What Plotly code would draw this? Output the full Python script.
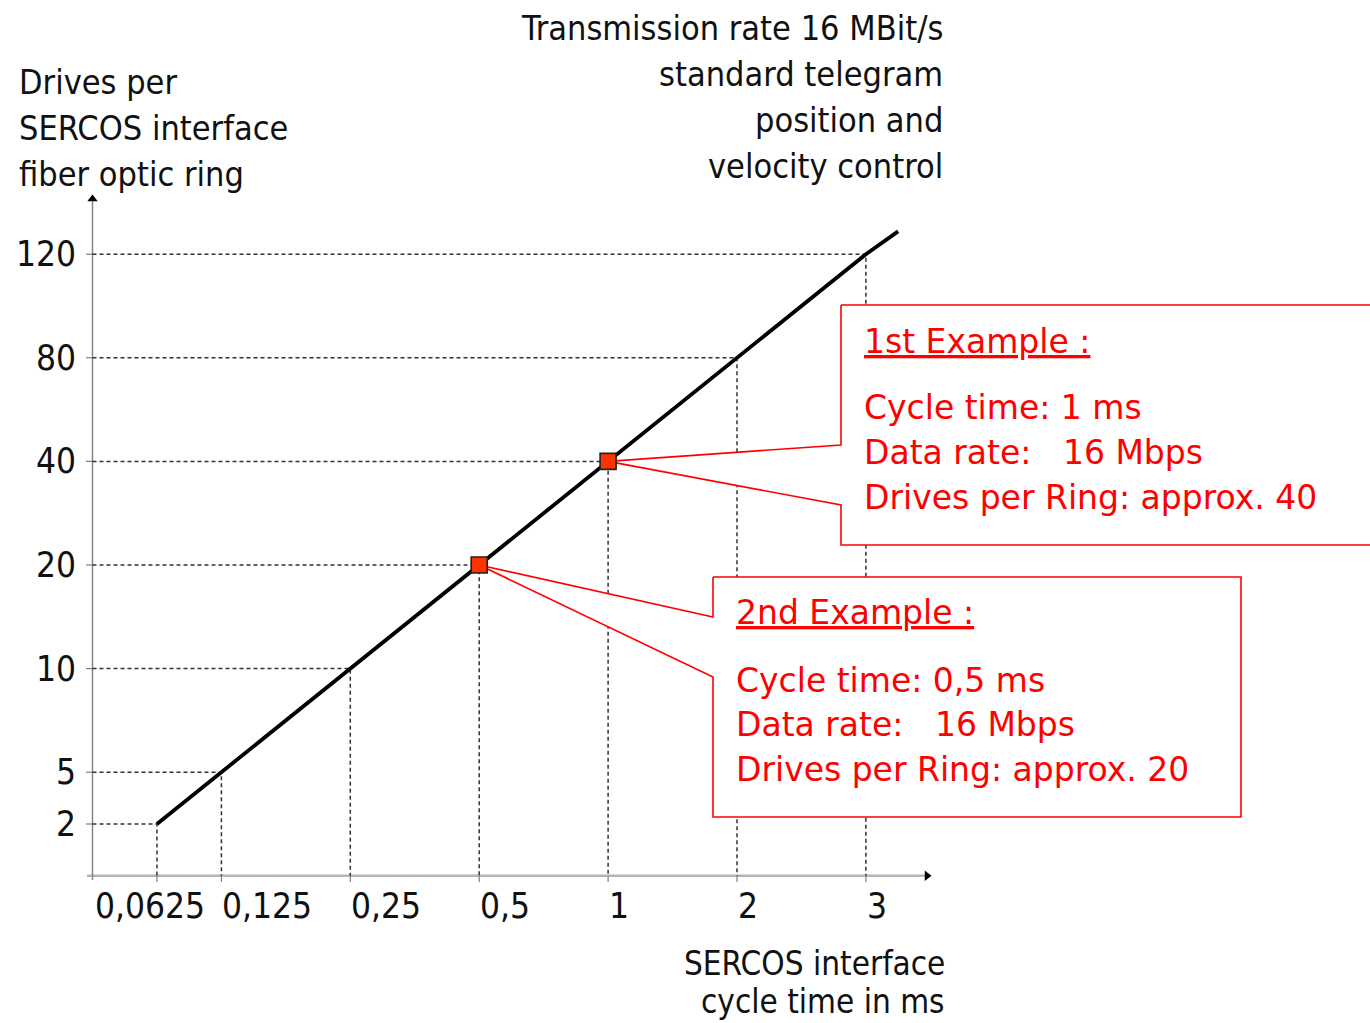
import plotly.graph_objects as go

# ---------------- data ----------------
cycle_time_labels = ["0,0625", "0,125", "0,25", "0,5", "1", "2", "3"]   # ms
drives_labels = ["2", "5", "10", "20", "40", "80", "120"]
# schematic (non-linear) positions of the ticks on both axes
x_positions = [0.5, 1, 2, 3, 4, 5, 6]
y_positions = [0.5, 1, 2, 3, 4, 5, 6]
line_extension = (6.25, 6.22)          # where the drawn line ends beyond 3 ms

example_titles = ["1st Example :", "2nd Example :"]
example_cycle = ["1", "0,5"]
example_rate = ["16 Mbps", "16 Mbps"]
example_drives = ["40", "20"]

y_title_lines = ["Drives per", "SERCOS interface", "fiber optic ring"]
top_title_lines = ["Transmission rate 16 MBit/s", "standard telegram", "position and", "velocity control"]
x_title_lines = ["SERCOS interface", "cycle time in ms"]

# ---------------- layout helpers (pixel -> data) ----------------
W, H = 1370, 1023
X0, UX = 92.5, 128.9
Y0, UY = 875.8, 103.6


def dx(px):
    return (px - X0) / UX


def dy(py):
    return (Y0 - py) / UY


COND = "Liberation Sans Narrow, Arial Narrow, DejaVu Sans Condensed, sans-serif"
RED_FONT = "DejaVu Sans, Verdana, sans-serif"
RED = "#ff0000"
GUIDE = "#333333"
INK = "#111111"

fig = go.Figure()
shapes = []
annotations = []

# ---------------- axes ----------------
shapes.append(dict(type="line", xref="x", yref="y", x0=dx(87), x1=dx(926), y0=0, y1=0,
                   line=dict(color="#b4b4b4", width=2.5), layer="below"))
shapes.append(dict(type="line", xref="x", yref="y", x0=0, x1=0, y0=dy(880), y1=dy(200),
                   line=dict(color="#808080", width=1.4), layer="below"))
for xp in x_positions:
    shapes.append(dict(type="line", xref="x", yref="y", x0=xp, x1=xp, y0=0, y1=dy(882),
                       line=dict(color="#808080", width=1.2), layer="below"))
for yp in y_positions:
    shapes.append(dict(type="line", xref="x", yref="y", x0=dx(86), x1=0, y0=yp, y1=yp,
                       line=dict(color="#808080", width=1.2), layer="below"))

# arrow heads
fig.add_trace(go.Scatter(x=[0], y=[dy(199)], mode="markers",
                         marker=dict(symbol="triangle-up", size=9, color="black"),
                         hoverinfo="skip", showlegend=False))
fig.add_trace(go.Scatter(x=[dx(927)], y=[0], mode="markers",
                         marker=dict(symbol="triangle-right", size=9, color="black"),
                         hoverinfo="skip", showlegend=False))

# ---------------- dotted guide lines ----------------
for xp, yp in zip(x_positions, y_positions):
    fig.add_trace(go.Scatter(x=[0, xp, xp], y=[yp, yp, 0], mode="lines",
                             line=dict(color=GUIDE, width=1.5, dash="4px,3px"),
                             hoverinfo="skip", showlegend=False))

# ---------------- main line ----------------
fig.add_trace(go.Scatter(x=x_positions + [line_extension[0]],
                         y=y_positions + [line_extension[1]],
                         mode="lines", line=dict(color="black", width=3.8),
                         hoverinfo="skip", showlegend=False))

# ---------------- tick labels ----------------
label_anchor_x = [dx(93)] + [xp - 0.01 for xp in x_positions[1:]]
for lab, xa in zip(cycle_time_labels, label_anchor_x):
    annotations.append(dict(x=xa, y=dy(906), xref="x", yref="y", text=lab, showarrow=False,
                            xanchor="left", yanchor="middle",
                            font=dict(family=COND, size=35, color=INK)))
for lab, yp in zip(drives_labels, y_positions):
    annotations.append(dict(x=dx(78), y=yp, xref="x", yref="y", text=lab, showarrow=False,
                            xanchor="right", yanchor="middle",
                            font=dict(family=COND, size=35, color=INK)))

# ---------------- axis titles ----------------
for txt, py in zip(y_title_lines, [82, 128, 174]):
    annotations.append(dict(x=dx(17), y=dy(py), xref="x", yref="y", text=txt,
                            showarrow=False, xanchor="left", yanchor="middle",
                            font=dict(family=COND, size=34, color=INK)))
for txt, py in zip(top_title_lines, [28, 74, 120, 166]):
    annotations.append(dict(x=dx(945), y=dy(py), xref="x", yref="y", text=txt,
                            showarrow=False, xanchor="right", yanchor="middle",
                            font=dict(family=COND, size=34, color=INK)))
for txt, py in zip(x_title_lines, [963, 1001]):
    annotations.append(dict(x=dx(947), y=dy(py), xref="x", yref="y", text=txt,
                            showarrow=False, xanchor="right", yanchor="middle",
                            font=dict(family=COND, size=33, color=INK)))

# ---------------- callout boxes ----------------
# box geometry in pixels: left, top, right, bottom, upper notch y, lower notch y
boxes = [
    dict(l=841, t=305, r=1372, b=545, n1=445, n2=505, tx=862, ty=[341, 407, 452, 497]),
    dict(l=713, t=577, r=1241, b=817, n1=617, n2=677, tx=734, ty=[612, 680, 724, 769]),
]
anchor_idx = [cycle_time_labels.index(c) for c in example_cycle]

for i, bx in enumerate(boxes):
    k = anchor_idx[i]
    ax_, ay_ = x_positions[k], y_positions[k]
    xs = [dx(bx["l"]), dx(bx["r"]), dx(bx["r"]), dx(bx["l"]), dx(bx["l"]), ax_, dx(bx["l"]), dx(bx["l"])]
    ys = [dy(bx["t"]), dy(bx["t"]), dy(bx["b"]), dy(bx["b"]), dy(bx["n2"]), ay_, dy(bx["n1"]), dy(bx["t"])]
    fig.add_trace(go.Scatter(x=xs, y=ys, mode="lines", fill="toself", fillcolor="white",
                             line=dict(color=RED, width=1.6), hoverinfo="skip", showlegend=False))
    lines = [
        f"<u>{example_titles[i]}</u>",
        f"Cycle time: {example_cycle[i]} ms",
        "Data rate:\u00a0\u00a0\u00a0" + example_rate[i],
        f"Drives per Ring: approx. {example_drives[i]}",
    ]
    for j, (txt, py) in enumerate(zip(lines, bx["ty"])):
        annotations.append(dict(x=dx(bx["tx"]), y=dy(py), xref="x", yref="y", text=txt,
                                showarrow=False, xanchor="left", yanchor="middle",
                                font=dict(family=RED_FONT, size=33, color=RED)))

# markers at the example points
fig.add_trace(go.Scatter(x=[x_positions[k] for k in anchor_idx],
                         y=[y_positions[k] for k in anchor_idx],
                         mode="markers",
                         marker=dict(symbol="square", size=16, color="#ff3300",
                                     line=dict(color="#222222", width=1.6)),
                         hoverinfo="skip", showlegend=False))

fig.update_layout(
    width=W, height=H,
    margin=dict(l=0, r=0, t=0, b=0),
    paper_bgcolor="white", plot_bgcolor="white",
    xaxis=dict(range=[dx(0), dx(W)], visible=False, fixedrange=True),
    yaxis=dict(range=[dy(H), dy(0)], visible=False, fixedrange=True),
    shapes=shapes, annotations=annotations, showlegend=False,
)

fig.write_html("out.html", config={"displayModeBar": False},
               post_script="document.body.style.margin='0';document.body.style.overflow='hidden';")
